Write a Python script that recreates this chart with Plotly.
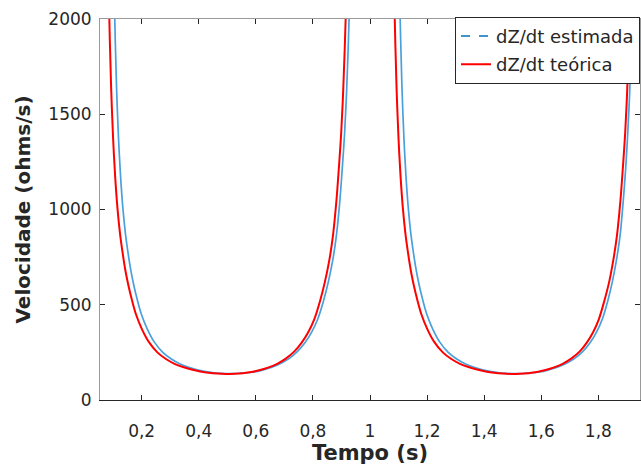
import plotly.graph_objects as go

# ---- data (period 1: 0..1 s, period 2: 1..2 s) ----
t_teorica_1 = [0.080, 0.0867, 0.093, 0.100, 0.107, 0.115, 0.124, 0.133, 0.143, 0.153,
               0.165, 0.180, 0.200, 0.225, 0.255, 0.285, 0.315, 0.345, 0.375, 0.405,
               0.435, 0.465, 0.495, 0.525, 0.555, 0.585, 0.615, 0.645, 0.675, 0.705,
               0.735, 0.760, 0.785, 0.805, 0.825, 0.842, 0.857, 0.870, 0.882, 0.891,
               0.899, 0.906, 0.9147, 0.921]
v_teorica_1 = [2550, 2000, 1640, 1370, 1175, 1010, 875, 775, 680, 605,
               530, 450, 375, 305, 250, 215, 190, 173, 160, 150,
               143, 139, 137, 138, 141, 147, 157, 171, 190, 217,
               255, 300, 360, 425, 520, 620, 730, 860, 1040, 1220,
               1400, 1620, 2000, 2450]

t_teorica_2 = [1.080, 1.0867, 1.093, 1.100, 1.107, 1.115, 1.124, 1.133, 1.143, 1.153,
               1.165, 1.180, 1.200, 1.225, 1.255, 1.285, 1.315, 1.345, 1.375, 1.405,
               1.435, 1.465, 1.495, 1.525, 1.555, 1.585, 1.615, 1.645, 1.675, 1.705,
               1.735, 1.759, 1.783, 1.802, 1.821, 1.838, 1.852, 1.865, 1.877, 1.886,
               1.894, 1.901, 1.9095, 1.916]
v_teorica_2 = [2550, 2000, 1640, 1370, 1175, 1010, 875, 775, 680, 605,
               530, 450, 375, 305, 250, 215, 190, 173, 160, 150,
               143, 139, 137, 138, 141, 147, 157, 171, 190, 217,
               255, 300, 360, 425, 520, 620, 730, 860, 1040, 1220,
               1400, 1620, 2000, 2450]

t_estimada_1 = [0.099, 0.1057, 0.112, 0.119, 0.126, 0.134, 0.143, 0.152, 0.162, 0.172,
                0.184, 0.199, 0.219, 0.244, 0.274, 0.304, 0.333, 0.362, 0.391, 0.420,
                0.448, 0.477, 0.506, 0.535, 0.564, 0.593, 0.623, 0.654, 0.685, 0.716,
                0.746, 0.772, 0.797, 0.817, 0.837, 0.854, 0.869, 0.882, 0.894, 0.903,
                0.911, 0.918, 0.9267, 0.933]
v_estimada_1 = [2550, 2000, 1640, 1370, 1175, 1010, 875, 775, 680, 605,
                530, 450, 375, 305, 250, 215, 190, 173, 160, 151,
                144, 140, 138, 139, 142, 147, 157, 171, 190, 217,
                255, 300, 360, 425, 520, 620, 730, 860, 1040, 1220,
                1400, 1620, 2000, 2450]

t_estimada_2 = [1.099, 1.1057, 1.112, 1.119, 1.126, 1.134, 1.143, 1.152, 1.162, 1.172,
                1.184, 1.199, 1.219, 1.244, 1.274, 1.304, 1.333, 1.362, 1.391, 1.420,
                1.448, 1.477, 1.506, 1.535, 1.564, 1.593, 1.623, 1.654, 1.685, 1.716,
                1.746, 1.771, 1.795, 1.814, 1.833, 1.849, 1.863, 1.876, 1.887, 1.896,
                1.903, 1.910, 1.9185, 1.925]
v_estimada_2 = [2550, 2000, 1640, 1370, 1175, 1010, 875, 775, 680, 605,
                530, 450, 375, 305, 250, 215, 190, 173, 160, 151,
                144, 140, 138, 139, 142, 147, 157, 171, 190, 217,
                255, 300, 360, 425, 520, 620, 730, 860, 1040, 1220,
                1400, 1620, 2000, 2450]

x_tick_vals = [0.2, 0.4, 0.6, 0.8, 1.0, 1.2, 1.4, 1.6, 1.8]
x_tick_text = ["0,2", "0,4", "0,6", "0,8", "1", "1,2", "1,4", "1,6", "1,8"]
y_tick_vals = [0, 500, 1000, 1500, 2000]
y_tick_text = ["0", "500", "1000", "1500", "2000"]

x_range = [0.054, 1.946]
y_range = [0, 2000]

label_estimada = "dZ/dt estimada"
label_teorica = "dZ/dt teórica"

# ---- figure ----
FONT = "DejaVu Sans"
DARK = "#262626"
GRAY = "#9a9a9a"

fig = go.Figure()

est_x = t_estimada_1 + [None] + t_estimada_2
est_y = v_estimada_1 + [None] + v_estimada_2
teo_x = t_teorica_1 + [None] + t_teorica_2
teo_y = v_teorica_1 + [None] + v_teorica_2

fig.add_trace(go.Scatter(x=est_x, y=est_y, mode="lines", showlegend=False,
                         line=dict(color="#4aa0dc", width=1.7, shape="spline",
                                   smoothing=0.9),
                         hoverinfo="skip"))
fig.add_trace(go.Scatter(x=[None], y=[None], mode="lines", name=label_estimada,
                         legendgroup="a",
                         line=dict(color="#0072BD", width=1.5, dash="dash")))
fig.add_trace(go.Scatter(x=teo_x, y=teo_y, mode="lines", name=label_teorica,
                         legendgroup="b",
                         line=dict(color="#FF0000", width=2, shape="spline",
                                   smoothing=0.9)))
# helper trace so the mirrored frame axes (top / right) are drawn
fig.add_trace(go.Scatter(x=[None], y=[None], xaxis="x2", yaxis="y2",
                         showlegend=False, hoverinfo="skip"))

common = dict(showgrid=False, zeroline=False, ticks="inside", ticklen=5,
              tickwidth=1, tickcolor=DARK, showline=True, linewidth=1)

fig.update_layout(
    width=641, height=466,
    margin=dict(l=100, r=1, t=19, b=66, pad=0),
    paper_bgcolor="white", plot_bgcolor="white",
    font=dict(family=FONT, color=DARK, size=17),
    xaxis=dict(range=x_range, tickvals=x_tick_vals, ticktext=x_tick_text,
               linecolor=DARK, tickfont=dict(size=17, color=DARK),
               ticklabelstandoff=16, automargin=False,
               title=dict(text="Tempo (s)", standoff=4,
                          font=dict(size=21, weight="bold", color=DARK)),
               **common),
    yaxis=dict(range=y_range, tickvals=y_tick_vals, ticktext=y_tick_text,
               linecolor=GRAY, tickfont=dict(size=17, color=DARK),
               ticklabelstandoff=4, automargin=False,
               title=dict(text="Velocidade (ohms/s)", standoff=12,
                          font=dict(size=20, weight="bold", color=DARK)),
               **common),
    xaxis2=dict(range=x_range, overlaying="x", side="top", tickvals=x_tick_vals,
                showticklabels=False, linecolor=GRAY, **common),
    yaxis2=dict(range=y_range, overlaying="y", side="right", tickvals=y_tick_vals,
                showticklabels=False, linecolor=GRAY, **common),
    legend=dict(x=1, xanchor="right", y=1.006, yanchor="top",
                bgcolor="white", bordercolor=DARK, borderwidth=1,
                font=dict(family=FONT, size=18, color=DARK),
                tracegroupgap=2, itemwidth=30),
    showlegend=True,
)

fig.write_html(
    "out.html",
    config={"displayModeBar": False},
    post_script="document.body.style.margin='0';document.body.style.overflow='hidden';",
)
